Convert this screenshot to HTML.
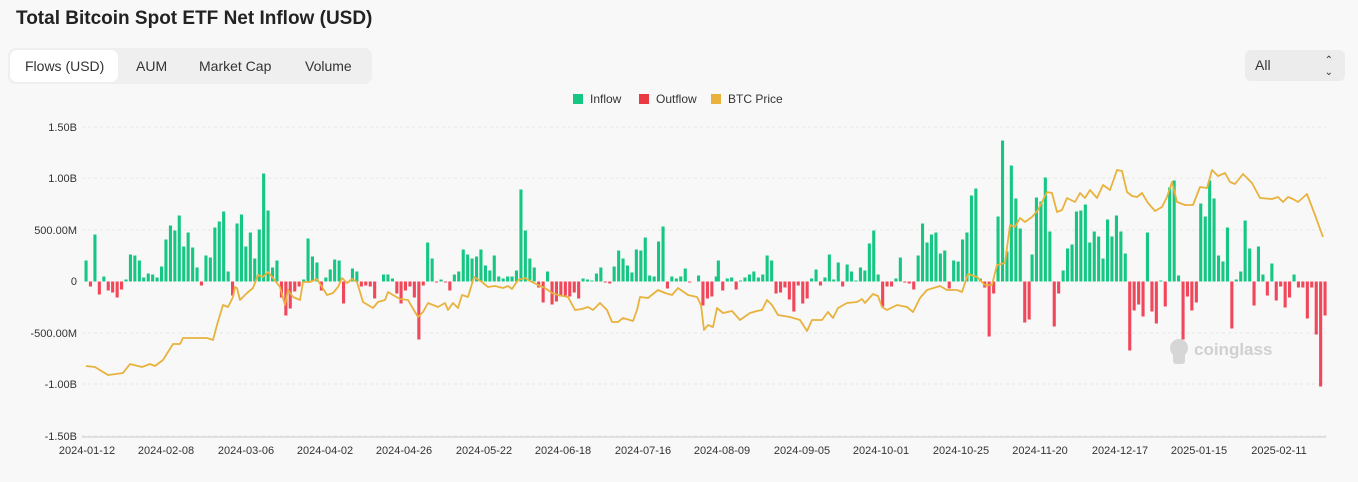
<!DOCTYPE html>
<html><head><meta charset="utf-8"><style>
body{margin:0;width:1358px;height:482px;background:#f8f8f8;font-family:"Liberation Sans",sans-serif;overflow:hidden;position:relative}
.t{position:absolute;left:16px;top:8px;font-size:19px;font-weight:bold;color:#222}
.tabs{position:absolute;left:8px;top:48px;width:364px;height:36px;background:#efefef;border-radius:8px}
.tab{position:absolute;top:0;height:36px;line-height:36px;font-size:14px;color:#333}
.sel{position:absolute;left:2px;top:2px;width:108px;height:32px;background:#fff;border-radius:7px}
.dd{position:absolute;left:1245px;top:50px;width:100px;height:31px;background:#ececec;border-radius:6px;font-size:14px;color:#333;line-height:31px}
</style></head><body>
<div class="t">Total Bitcoin Spot ETF Net Inflow (USD)</div>
<div class="tabs"><div class="sel"></div>
<div class="tab" style="left:17px">Flows (USD)</div>
<div class="tab" style="left:128px">AUM</div>
<div class="tab" style="left:191px">Market Cap</div>
<div class="tab" style="left:297px">Volume</div></div>
<div class="dd"><span style="margin-left:10px">All</span><span style="position:absolute;right:12px;top:0;font-size:10px;line-height:12px;padding-top:5px">⌃<br>⌄</span></div>
<svg id="s" width="1358" height="482" style="position:absolute;left:0;top:0" font-family="Liberation Sans, sans-serif">
<g font-size="12" fill="#333">
<rect x="573" y="94" width="10" height="10" fill="#16c784"/><text x="590" y="103">Inflow</text>
<rect x="639" y="94" width="10" height="10" fill="#ea3943"/><text x="656" y="103">Outflow</text>
<rect x="711" y="94" width="10" height="10" fill="#e8b23d"/><text x="728" y="103">BTC Price</text>
</g>
<g id="grid" stroke="#e6e6e6" stroke-dasharray="3,3"></g>
<g id="yl" font-size="11" fill="#333" text-anchor="end">
<text x="77" y="131">1.50B</text><text x="77" y="182">1.00B</text><text x="77" y="234">500.00M</text><text x="77" y="285">0</text><text x="77" y="337">-500.00M</text><text x="77" y="388">-1.00B</text><text x="77" y="440">-1.50B</text></g>
<line x1="82" y1="437" x2="1326" y2="437" stroke="#ccc"/>
<g font-size="11" fill="#333" text-anchor="middle">
<text x="87" y="454">2024-01-12</text><text x="166" y="454">2024-02-08</text><text x="246" y="454">2024-03-06</text><text x="325" y="454">2024-04-02</text><text x="404" y="454">2024-04-26</text><text x="484" y="454">2024-05-22</text><text x="563" y="454">2024-06-18</text><text x="643" y="454">2024-07-16</text><text x="722" y="454">2024-08-09</text><text x="802" y="454">2024-09-05</text><text x="881" y="454">2024-10-01</text><text x="961" y="454">2024-10-25</text><text x="1040" y="454">2024-11-20</text><text x="1120" y="454">2024-12-17</text><text x="1199" y="454">2025-01-15</text><text x="1279" y="454">2025-02-11</text></g>
<g opacity="0.35"><circle cx="1179" cy="348" r="9" fill="#999"/><rect x="1173" y="352" width="12" height="12" rx="3" fill="#999"/>
<text x="1194" y="355" font-size="17" font-weight="bold" fill="#888">coinglass</text></g>
<g id="bars"></g>
<path id="price" fill="none" stroke="#e8b23d" stroke-width="1.8" stroke-linejoin="round"/>
</svg>
<script>
var NS="http://www.w3.org/2000/svg",Z=281.5;
var g=document.getElementById('grid');
[127,178,230,333,384,436].forEach(function(y){var l=document.createElementNS(NS,'line');l.setAttribute('x1',82);l.setAttribute('x2',1326);l.setAttribute('y1',y);l.setAttribute('y2',y);g.appendChild(l)});
var segs=[[86,[21,-5,47,-13,5,-9,-11,-16,-8,2,27,26,21,4,8,7,4,15,42,56,51,66,35,49,34,14,-4,26,24,54,60,70,10,-14,58,67,35,49,23,52,108,71,14,21,-16,-34,-27,-10,-5,2,43,25,19,-9,4,12,22,21,-22,-1,13,10,-5,-4,-5,-17,0,7,7,3,-12]],
[401,[-22,-9,-5,-16,-58,-4,39,23,-1,2,-1,-9,7,10,32,27,23,25,32,16,11,26,5,3,5,5,11,92,51,23,14,-6,-21,10,-23,-20,-15,-14,-15,-11,-17,3,2,1,8,14,-1,-2,15,31,23,16,9,32,31,44,6,5,40,55,-7,5,3,5,13,-1,0,6,-24,-17,-15,5]],
[718.3,[21,-9,3,4,-8,1,4,7,10,4,7,26,21,-12,-11,-6,-18,-30,-4,-22,-17,3,12,-4,4,27,2,19,-5,17,10,1,14,11,38,51,7,-25,-5,-5,3,24,-1,-2,-8,26,58,39,47,49,28,31,-7,21,20,42,49,86,93,3,-6,-55,-12,65,141,30,116,83,53,-41,-38]],
[1032,[27,84,80,104,50,-45,-12,11,33,37,70,71,77,39,50,45,23,62,45,66,50,28,-69,-29,-23,-35,49,-30,-42,1,-25,94,101,6,-58,-15,-29,-21,78,65,101,83,26,20,54,-47,2,10,61,33,-24,35,7,-14,18,-19,-5,-26,-16,7,-6,-6,-37,-6,-53,-105,-34]]];
var b=document.getElementById('bars'),h='';
segs.forEach(function(s){s[1].forEach(function(v,i){if(!v)return;var x=s[0]+i*4.44-1.5;
h+='<rect x="'+x.toFixed(1)+'" y="'+(v>0?Z-v:Z)+'" width="3.1" height="'+Math.abs(v)+'" fill="'+(v>0?'#16c784':'#f0475a')+'"/>'})});
b.innerHTML=h;
var p=[[86,366],[95,367],[103,372],[108,375],[116,374],[123,373],[130,364],[142,367],[150,364],[155,366],[163,360],[173,344],[180,344],[183,338],[207,338],[213,340],[217,325],[223,305],[228,307],[233,297],[235,287],[237,288],[240,300],[247,293],[253,288],[258,275],[263,277],[268,272],[273,278],[280,287],[285,305],[288,290],[293,297],[300,300],[303,282],[310,282],[317,279],[322,287],[327,295],[333,293],[338,287],[342,278],[347,283],[352,279],[357,282],[363,302],[373,308],[378,302],[385,300],[388,292],[393,295],[400,299],[408,300],[418,317],[423,312],[428,303],[438,307],[445,303],[448,310],[453,303],[458,308],[462,295],[468,297],[474,277],[482,282],[488,287],[495,286],[503,288],[508,286],[512,289],[518,280],[525,278],[532,282],[538,285],[545,288],[552,293],[558,295],[568,297],[575,310],[582,309],[588,307],[593,310],[600,303],[607,310],[612,322],[618,322],[623,318],[633,321],[637,310],[640,297],[648,298],[658,290],[665,293],[672,295],[678,288],[688,295],[697,297],[701,305],[704,330],[708,325],[713,327],[717,308],[723,313],[732,311],[740,320],[750,313],[757,311],[762,310],[767,300],[772,305],[778,315],[790,317],[800,320],[807,331],[812,320],[822,320],[828,312],[833,318],[838,308],[847,303],[857,302],[862,299],[865,303],[873,294],[878,296],[882,307],[887,310],[897,305],[907,307],[913,312],[920,298],[927,290],[940,286],[947,290],[957,290],[962,292],[968,274],[977,277],[985,285],[992,285],[997,265],[1005,263],[1010,225],[1015,227],[1020,218],[1025,222],[1032,217],[1038,210],[1047,192],[1052,193],[1057,212],[1062,210],[1067,198],[1075,202],[1080,193],[1085,198],[1090,190],[1097,198],[1103,185],[1110,190],[1117,170],[1122,171],[1127,192],[1132,196],[1137,197],[1142,193],[1148,203],[1155,211],[1162,207],[1167,197],[1172,182],[1177,202],[1185,205],[1193,205],[1200,187],[1207,188],[1212,170],[1218,176],[1225,173],[1230,182],[1235,184],[1243,174],[1252,183],[1260,198],[1272,199],[1278,197],[1283,202],[1288,197],[1293,199],[1298,202],[1307,194],[1315,215],[1323,237]];
document.getElementById('price').setAttribute('d','M'+p.map(function(q){return q[0]+','+q[1]}).join(' L'));
</script>
</body></html>
